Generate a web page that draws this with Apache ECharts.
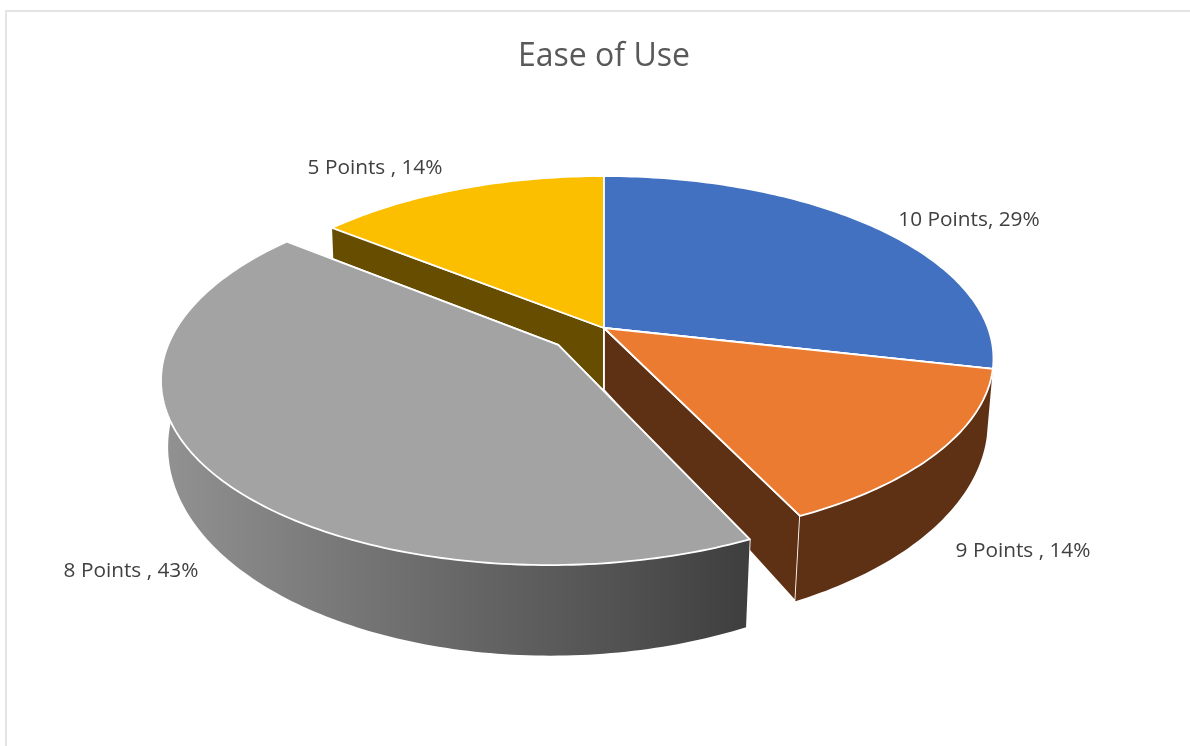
<!DOCTYPE html>
<html><head><meta charset="utf-8">
<style>html,body{margin:0;padding:0;background:#fff}#c{width:1190px;height:746px}</style>
<script src="https://cdn.jsdelivr.net/npm/echarts@6/dist/echarts.min.js"></script>
</head><body><div id="c"></div>
<script>
const titleText = 'Ease of Use';
const categories = ['10 Points', '9 Points ', '8 Points ', '5 Points '];
const values = [2, 1, 3, 1];
const percents = ['29%', '14%', '43%', '14%'];
const topColors = ['#4271C2', '#EB7B30', '#A3A3A3', '#FBBF00'];
const wallColors = ['#294476', '#5F3114', '#636363', '#664D00'];
const exploded = [0, 0, 0.15, 0];
const labelPos = [[969, 220], [1023, 551], [131, 571], [375, 168]];

const total = values.reduce((a, b) => a + b, 0);
const CX = 604, TOP = {y0: 328, a: 384, b: 177.3, k: 0.1667}, BOT = {y0: 390, a: 379, b: 201.5, k: 0.156};

function proj(pl, u, v) {
  const w = 1 - pl.k * v;
  return [CX + pl.a * u / w, pl.y0 + pl.b * v / w];
}
function arcPts(pl, a0, a1, ox, oy) {
  const n = Math.max(2, Math.ceil(Math.abs(a1 - a0) * 60)), pts = [];
  for (let i = 0; i <= n; i++) {
    const t = a0 + (a1 - a0) * i / n;
    pts.push(proj(pl, ox + Math.sin(t), oy - Math.cos(t)));
  }
  return pts;
}
const spans = [];
let cum = 0;
values.forEach(v => { spans.push([cum / total * 2 * Math.PI, (cum + v) / total * 2 * Math.PI]); cum += v; });

function offsets(i) {
  const m = (spans[i][0] + spans[i][1]) / 2;
  return [exploded[i] * Math.sin(m), -exploded[i] * Math.cos(m)];
}
const white = {stroke: '#fff', lineWidth: 1.8, lineJoin: 'round'};

function sliceShapes(i) {
  const [a0, a1] = spans[i], [ox, oy] = offsets(i), kids = [];
  const cT = proj(TOP, ox, oy), cB = proj(BOT, ox, oy);
  const tA = arcPts(TOP, a0, a1, ox, oy), bA = arcPts(BOT, a0, a1, ox, oy);
  [0, tA.length - 1].forEach(idx => {
    kids.push({type: 'polygon', shape: {points: [cT, tA[idx], bA[idx], cB]},
      style: Object.assign({fill: wallColors[i]}, white)});
  });
  const rimFill = i === 2 ? new echarts.graphic.LinearGradient(0, 0, 1, 0, [
    {offset: 0, color: '#929292'}, {offset: 0.15, color: '#858585'},
    {offset: 0.47, color: '#6A6A6A'}, {offset: 0.8, color: '#505050'},
    {offset: 1, color: '#3E3E3E'}]) : wallColors[i];
  kids.push({type: 'polygon', shape: {points: tA.concat(bA.slice().reverse())},
    style: {fill: rimFill, stroke: 'none'}});
  kids.push({type: 'polygon', shape: {points: [cT].concat(tA)},
    style: Object.assign({fill: topColors[i]}, white)});
  return kids;
}
const drawOrder = [3, 0, 1, 2];

const chart = echarts.init(document.getElementById('c'), null, {renderer: 'canvas'});
chart.setOption({
  animation: false,
  backgroundColor: '#fff',
  title: {text: titleText, left: 599, top: 36, textAlign: 'center',
    textStyle: {fontFamily: 'Open Sans', fontSize: 32, fontWeight: 'normal', color: '#595959'}},
  graphic: [{type: 'rect', silent: true, z: -1, shape: {x: 6, y: 11, width: 1300, height: 800},
    style: {fill: 'none', stroke: '#DCDCDC', lineWidth: 1.5}}],
  series: [{
    type: 'custom', coordinateSystem: 'none',
    data: drawOrder.map(i => [i, values[i]]),
    renderItem: (p, api) => ({type: 'group', children: sliceShapes(api.value(0))})
  }, {
    type: 'custom', coordinateSystem: 'none', z: 5,
    data: categories.map((c, i) => i),
    renderItem: (p, api) => {
      const i = api.value(0);
      return {type: 'text', style: {x: labelPos[i][0], y: labelPos[i][1],
        text: categories[i] + ', ' + percents[i], align: 'center', verticalAlign: 'middle',
        font: '20.8px "Open Sans"', fill: '#404040'}};
    }
  }]
});
</script></body></html>
